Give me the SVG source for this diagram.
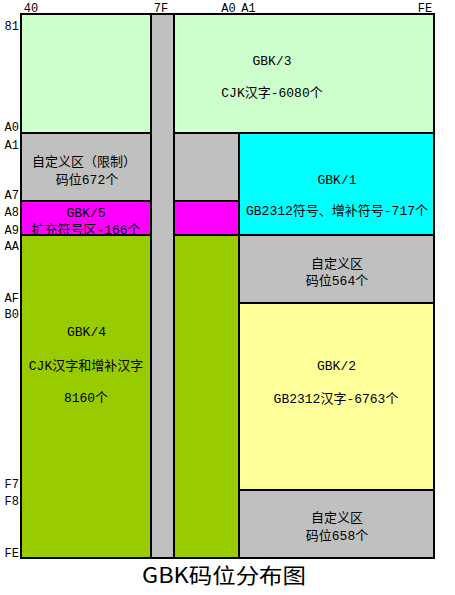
<svg xmlns="http://www.w3.org/2000/svg" width="455" height="595" viewBox="0 0 455 595">
<style>
.b{stroke:#000;stroke-width:2}
.t{font-family:"Liberation Mono","Noto Sans CJK SC",monospace;font-size:13px;text-anchor:middle;fill:#000}
.ax{font-family:"Liberation Mono","Noto Sans CJK SC",monospace;font-size:12px;fill:#000}
.l{text-anchor:end}
.c{text-anchor:middle}
.g{fill:#C0C0C0}
</style>
<rect width="455" height="595" fill="#fff"/>
<g id="gbk3">
<rect class="b" x="21" y="14" width="413" height="119" fill="#CCFFCC"/>
<text class="t" x="272" y="64.5">GBK/3</text>
<text class="t" x="272" y="96.5">CJK汉字-6080个</text>
</g>
<g id="custom-limited">
<rect class="b g" x="21" y="133" width="218" height="68"/>
<text class="t" x="84" y="166">自定义区（限制）</text>
<text class="t" x="87" y="184">码位672个</text>
</g>
<g id="gbk5">
<rect class="b" x="21" y="201" width="218" height="34" fill="#FF00FF"/>
<text class="t" x="86" y="216.5">GBK/5</text>
<text class="t" x="86" y="233.5">扩充符号区-166个</text>
</g>
<g id="gbk4">
<rect class="b" x="21" y="235" width="218" height="323" fill="#99CC00"/>
<text class="t" x="86.5" y="335.5">GBK/4</text>
<text class="t" x="86" y="370">CJK汉字和增补汉字</text>
<text class="t" x="86" y="402">8160个</text>
</g>
<g id="col-7F">
<rect class="b g" x="151" y="14" width="23" height="544"/>
</g>
<g id="gbk1">
<rect class="b" x="239" y="133" width="195" height="102" fill="#00FFFF"/>
<text class="t" x="337" y="183.5">GBK/1</text>
<text class="t" x="337" y="215">GB2312符号、增补符号-717个</text>
</g>
<g id="custom-564">
<rect class="b g" x="239" y="235" width="195" height="68"/>
<text class="t" x="337" y="267.5">自定义区</text>
<text class="t" x="337" y="285">码位564个</text>
</g>
<g id="gbk2">
<rect class="b" x="239" y="303" width="195" height="187" fill="#FFFF99"/>
<text class="t" x="336.5" y="369.5">GBK/2</text>
<text class="t" x="336" y="402.5">GB2312汉字-6763个</text>
</g>
<g id="custom-658">
<rect class="b g" x="239" y="490" width="195" height="68"/>
<text class="t" x="337" y="522">自定义区</text>
<text class="t" x="337" y="540">码位658个</text>
</g>
<g id="connectors"></g>
<g id="axis-top" class="ax c">
<text x="31" y="12">40</text>
<text x="161" y="12">7F</text>
<text x="228.5" y="12">A0</text>
<text x="248.5" y="12">A1</text>
<text x="425" y="12">FE</text>
</g>
<g id="axis-left" class="ax l">
<text x="19" y="29.5">81</text>
<text x="19" y="131">A0</text>
<text x="19" y="149">A1</text>
<text x="19" y="199">A7</text>
<text x="19" y="216">A8</text>
<text x="19" y="234">A9</text>
<text x="19" y="250">AA</text>
<text x="19" y="301.5">AF</text>
<text x="19" y="318">B0</text>
<text x="19" y="488">F7</text>
<text x="19" y="505">F8</text>
<text x="19" y="556.5">FE</text>
</g>
<g id="title">
<text x="224" y="583" font-family="'Noto Sans CJK SC',sans-serif" font-size="21" text-anchor="middle" textLength="164" lengthAdjust="spacingAndGlyphs">GBK码位分布图</text>
</g>
</svg>
